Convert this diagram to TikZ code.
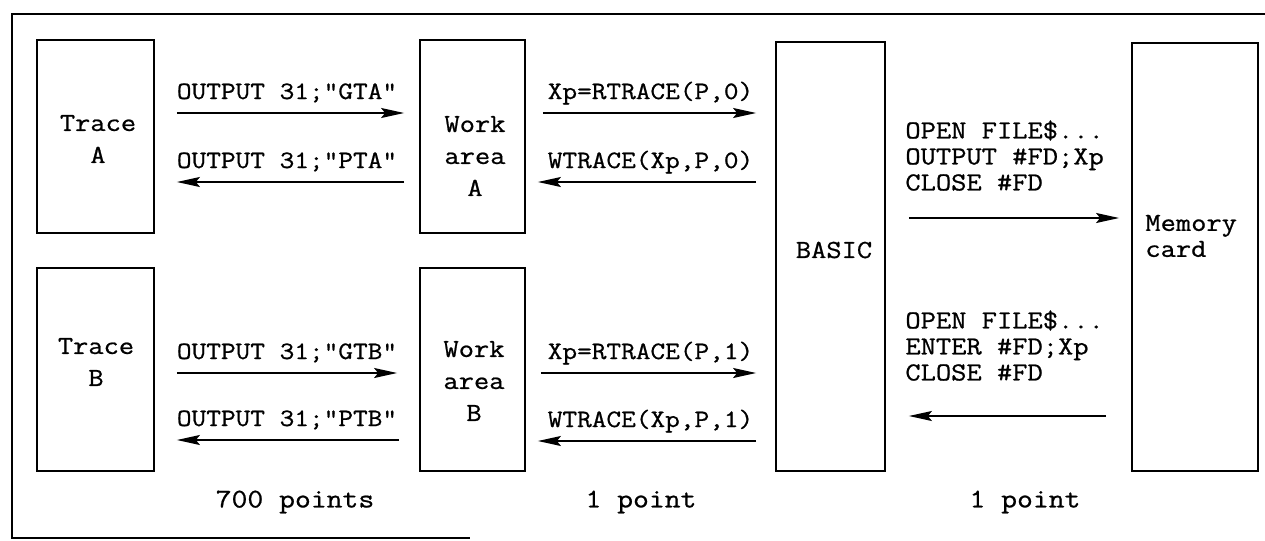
\documentclass[tikz,border=0pt]{standalone}
\usepackage{fontspec}
\setmonofont[FakeStretch=1.14,FakeBold=0.8]{Latin Modern Mono}
\usetikzlibrary{arrows.meta}
\begin{document}
\begin{tikzpicture}[x=0.5pt,y=-0.5pt,
    box/.style={draw,line width=0.9pt,inner sep=0pt},
    txt/.style={font=\ttfamily\fontsize{13}{16}\selectfont,align=center,inner sep=0pt},
    code/.style={font=\ttfamily\fontsize{13}{13}\selectfont,align=left,inner sep=0pt},
    cmd/.style={font=\ttfamily\fontsize{12.5}{12.5}\selectfont,anchor=base,yshift=7pt,inner sep=0pt},
    flow/.style={line width=0.8pt,-{Stealth[length=11.5pt,width=5pt,inset=2pt]}}]
    \useasboundingbox (0,0) rectangle (1265,541);
    \draw[line width=1.1pt] (1265,14)--(12,14)--(12,538)--(470,538);
    % boxes
    \node[box,minimum width=58.5pt,minimum height=96.5pt] (traceA) at (95.5,136.5) {};
    \node[box,minimum width=52.5pt,minimum height=96.5pt] (workA) at (472.5,136.5) {};
    \node[box,minimum width=58.5pt,minimum height=101.5pt] (traceB) at (95.5,369.5) {};
    \node[box,minimum width=52.5pt,minimum height=101.5pt] (workB) at (472.5,369.5) {};
    \node[box,minimum width=54.5pt,minimum height=214.5pt] (basic) at (830.5,256.5) {};
    \node[box,minimum width=63pt,minimum height=214pt] (memcard) at (1195,257) {};
    \node[txt] (traceAtxt) at (98,139) {Trace\\A};
    \node[txt] (workAtxt) at (475,156) {Work\\area\\A};
    \node[txt] (traceBtxt) at (96,362) {Trace\\B};
    \node[txt] (workBtxt) at (474,381) {Work\\area\\B};
    \node[txt] (basictxt) at (834,250) {BASIC};
    \node[code,anchor=west] (memtxt) at (1145,236) {Memory\\card};
    % trace <-> work area
    \draw[flow,shorten <=11pt,shorten >=7.5pt] (traceA.east|-0,113)
        -- node[cmd] (gta) {OUTPUT 31;"GTA"} (workA.west|-0,113);
    \draw[flow,shorten <=7.5pt,shorten >=11pt] (workA.west|-0,182)
        -- node[cmd] (pta) {OUTPUT 31;"PTA"} (traceA.east|-0,182);
    \draw[flow,shorten <=11pt,shorten >=11pt] (traceB.east|-0,373)
        -- node[cmd] (gtb) {OUTPUT 31;"GTB"} (workB.west|-0,373);
    \draw[flow,shorten <=10pt,shorten >=11pt] (workB.west|-0,440)
        -- node[cmd] (ptb) {OUTPUT 31;"PTB"} (traceB.east|-0,440);
    % work area <-> BASIC
    \draw[flow,shorten <=8.5pt,shorten >=9.5pt] (workA.east|-0,113)
        -- node[cmd] (rtrA) {Xp=RTRACE(P,0)} (basic.west|-0,113);
    \draw[flow,shorten <=9.5pt,shorten >=6pt] (basic.west|-0,182)
        -- node[cmd] (wtrA) {WTRACE(Xp,P,0)} (workA.east|-0,182);
    \draw[flow,shorten <=7.5pt,shorten >=9.5pt] (workB.east|-0,373)
        -- node[cmd] (rtrB) {Xp=RTRACE(P,1)} (basic.west|-0,373);
    \draw[flow,shorten <=9.5pt,shorten >=6pt] (basic.west|-0,441)
        -- node[cmd] (wtrB) {WTRACE(Xp,P,1)} (workB.east|-0,441);
    % BASIC <-> memory card
    \node[code,anchor=north west] (fileout) at (905,120)
        {OPEN FILE\$...\\OUTPUT \#FD;Xp\\CLOSE \#FD};
    \draw[flow,shorten <=11.5pt,shorten >=6pt] (basic.east|-0,218) -- (memcard.west|-0,218);
    \node[code,anchor=north west] (filein) at (905,310)
        {OPEN FILE\$...\\ENTER \#FD;Xp\\CLOSE \#FD};
    \draw[flow,shorten <=12.5pt,shorten >=11.5pt] (memcard.west|-0,416) -- (basic.east|-0,416);
    % sizes
    \node[txt,font=\ttfamily\fontsize{13.5}{16}\selectfont] (ptsTrace) at (295,502) {700 points};
    \node[txt,font=\ttfamily\fontsize{13.5}{16}\selectfont] (ptsWork) at (641,502) {1 point};
    \node[txt,font=\ttfamily\fontsize{13.5}{16}\selectfont] (ptsCard) at (1025,502) {1 point};
\end{tikzpicture}
\end{document}
